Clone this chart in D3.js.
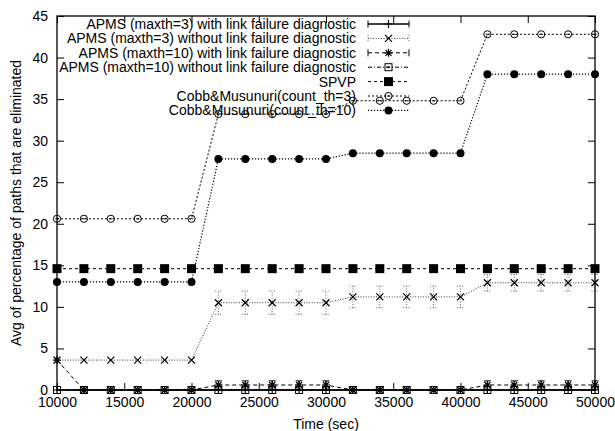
<!DOCTYPE html>
<html>
<head>
<meta charset="utf-8">
<script src="https://cdn.jsdelivr.net/npm/d3@7"></script>
<style>
  html, body { margin: 0; padding: 0; background: #fff; }
  svg { display: block; }
  text { font-family: "Liberation Sans", Arial, Helvetica, sans-serif; font-size: 14px; fill: #000; }
</style>
</head>
<body>
<svg id="chart" width="615" height="431"></svg>
<script>
// ---- data ----
const times = [10000,12000,14000,16000,18000,20000,22000,24000,26000,28000,30000,
               32000,34000,36000,38000,40000,42000,44000,46000,48000,50000];
const xTicks = [10000,15000,20000,25000,30000,35000,40000,45000,50000];
const yTicks = [0,5,10,15,20,25,30,35,40,45];

const apms3With    = [0,0,0,0,0,0, 0,0,0,0,0, 0,0,0,0,0, 0,0,0,0,0];
const apms3WithErr = [0,0,0,0,0,0, 0,0,0,0,0, 0,0,0,0,0, 0,0,0,0,0];
const apms3Without    = [3.6,3.6,3.6,3.6,3.6,3.6, 10.5,10.5,10.5,10.5,10.5, 11.2,11.2,11.2,11.2,11.2, 12.9,12.9,12.9,12.9,12.9];
const apms3WithoutErr = [0,0,0,0,0,0, 1.4,1.4,1.4,1.4,1.4, 1.3,1.3,1.3,1.3,1.3, 1.0,1.0,1.0,1.0,1.0];
const apms10With    = [3.6,0,0,0,0,0, 0.6,0.6,0.6,0.6,0.6, 0,0,0,0,0, 0.6,0.6,0.6,0.6,0.6];
const apms10WithErr = [0,0,0,0,0,0, 0.5,0.5,0.5,0.5,0.5, 0,0,0,0,0, 0.5,0.5,0.5,0.5,0.5];
const apms10Without = [0,0,0,0,0,0, 0,0,0,0,0, 0,0,0,0,0, 0,0,0,0,0];
const spvp   = [14.6,14.6,14.6,14.6,14.6,14.6, 14.6,14.6,14.6,14.6,14.6, 14.6,14.6,14.6,14.6,14.6, 14.6,14.6,14.6,14.6,14.6];
const cobb3  = [20.6,20.6,20.6,20.6,20.6,20.6, 33.2,33.2,33.2,33.2,33.2, 34.8,34.8,34.8,34.8,34.8, 42.8,42.8,42.8,42.8,42.8];
const cobb10 = [13.0,13.0,13.0,13.0,13.0,13.0, 27.8,27.8,27.8,27.8,27.8, 28.5,28.5,28.5,28.5,28.5, 38.0,38.0,38.0,38.0,38.0];

const series = [
  {name: "APMS (maxth=3) with link failure diagnostic", values: apms3With, err: apms3WithErr,
   dash: null, width: 1.5, color: "#000", marker: "plus", errColor: "#000", errDash: null},
  {name: "APMS (maxth=3) without link failure diagnostic", values: apms3Without, err: apms3WithoutErr,
   dash: "1,1.6", width: 1, color: "#333", marker: "cross", errColor: "#666", errDash: "1,1.6"},
  {name: "APMS (maxth=10) with link failure diagnostic", values: apms10With, err: apms10WithErr,
   dash: "4,3", width: 1, color: "#000", marker: "star", errColor: "#000", errDash: null},
  {name: "APMS (maxth=10) without link failure diagnostic", values: apms10Without, err: null,
   dash: "4,2,1,2", width: 1, color: "#000", marker: "box", errColor: null},
  {name: "SPVP", values: spvp, err: null,
   dash: "3,3", width: 1, color: "#000", marker: "fbox", errColor: null},
  {name: "Cobb&Musunuri(count_th=3)", values: cobb3, err: null,
   dash: "2,2", width: 1, color: "#000", marker: "circle", errColor: null},
  {name: "Cobb&Musunuri(count_th=10)", values: cobb10, err: null,
   dash: "1.2,1.8", width: 1.2, color: "#000", marker: "fcircle", errColor: null}
];

// ---- layout ----
const svg = d3.select("#chart");
const L = 57, R = 595, T = 16, B = 390;
const x = d3.scaleLinear().domain([10000, 50000]).range([L, R]);
const y = d3.scaleLinear().domain([0, 45]).range([B, T]);

// axes (ticks inward, gnuplot style)
const tick = 7;
const gB = svg.append("g").attr("transform", `translate(0,${B})`)
  .call(d3.axisBottom(x).tickValues(xTicks).tickSize(-tick).tickPadding(7).tickFormat(d3.format("d")));
const gT = svg.append("g").attr("transform", `translate(0,${T})`)
  .call(d3.axisTop(x).tickValues(xTicks).tickSize(-tick).tickFormat(""));
const gL = svg.append("g").attr("transform", `translate(${L},0)`)
  .call(d3.axisLeft(y).tickValues(yTicks).tickSize(-tick).tickPadding(9).tickFormat(d3.format("d")));
const gR = svg.append("g").attr("transform", `translate(${R},0)`)
  .call(d3.axisRight(y).tickValues(yTicks).tickSize(-tick).tickFormat(""));
[gB, gT, gL, gR].forEach(g => {
  g.select(".domain").remove();
  g.selectAll(".tick line").attr("stroke", "#000").attr("stroke-width", 1);
  g.selectAll("text").style("font-size", "14px").style("font-family", '"Liberation Sans", Arial, sans-serif').attr("fill", "#000");
});
gB.selectAll("text").attr("dy", "0.71em");

// axis titles
svg.append("text").attr("x", (L + R) / 2).attr("y", 429).attr("text-anchor", "middle").text("Time (sec)");
svg.append("text").attr("transform", `translate(21,${(T + B) / 2}) rotate(-90)`)
  .attr("text-anchor", "middle").text("Avg of percentage of paths that are eliminated");

// markers
function drawMarker(g, type, cx, cy) {
  const s = 4;
  if (type === "plus") {
    g.append("path").attr("d", `M${cx - s},${cy}H${cx + s}M${cx},${cy - s}V${cy + s}`)
      .attr("stroke", "#000").attr("stroke-width", 1.2).attr("fill", "none");
  } else if (type === "cross") {
    g.append("path").attr("d", `M${cx - 3.5},${cy - 3.5}L${cx + 3.5},${cy + 3.5}M${cx - 3.5},${cy + 3.5}L${cx + 3.5},${cy - 3.5}`)
      .attr("stroke", "#000").attr("stroke-width", 1.2).attr("fill", "none");
  } else if (type === "star") {
    g.append("path").attr("d", `M${cx - s},${cy}H${cx + s}M${cx},${cy - s}V${cy + s}M${cx - 3},${cy - 3}L${cx + 3},${cy + 3}M${cx - 3},${cy + 3}L${cx + 3},${cy - 3}`)
      .attr("stroke", "#000").attr("stroke-width", 1.2).attr("fill", "none");
  } else if (type === "box") {
    g.append("rect").attr("x", cx - 3.5).attr("y", cy - 3.5).attr("width", 7).attr("height", 7)
      .attr("stroke", "#000").attr("stroke-width", 1).attr("fill", "none");
    g.append("rect").attr("x", cx - 1).attr("y", cy - 1).attr("width", 2).attr("height", 2).attr("fill", "#000");
  } else if (type === "fbox") {
    g.append("rect").attr("x", cx - 4.5).attr("y", cy - 4.5).attr("width", 9).attr("height", 9).attr("fill", "#000");
  } else if (type === "circle") {
    g.append("circle").attr("cx", cx).attr("cy", cy).attr("r", 3.6)
      .attr("stroke", "#000").attr("stroke-width", 1).attr("fill", "none");
    g.append("path").attr("d", `M${cx - 1.8},${cy}H${cx + 1.8}`).attr("stroke", "#000").attr("stroke-width", 0.9);
  } else if (type === "fcircle") {
    g.append("circle").attr("cx", cx).attr("cy", cy).attr("r", 4).attr("fill", "#000");
  }
}

const line = d3.line().x(d => x(d[0])).y(d => y(d[1]));
const plotG = svg.append("g");

series.forEach(s => {
  const pts = times.map((t, i) => [t, s.values[i]]);
  const g = plotG.append("g");
  g.append("path").attr("d", line(pts)).attr("fill", "none")
    .attr("stroke", s.color).attr("stroke-width", s.width)
    .attr("stroke-dasharray", s.dash);
  if (s.err) {
    times.forEach((t, i) => {
      const e = s.err[i];
      if (e <= 0) return;
      const lo = Math.max(0, s.values[i] - e), hi = s.values[i] + e;
      const cx = x(t);
      g.append("path")
        .attr("d", `M${cx},${y(lo)}V${y(hi)}M${cx - 3.5},${y(lo)}H${cx + 3.5}M${cx - 3.5},${y(hi)}H${cx + 3.5}`)
        .attr("stroke", s.errColor).attr("stroke-width", 1).attr("fill", "none")
        .attr("stroke-dasharray", s.errDash);
    });
  }
  pts.forEach(p => drawMarker(g, s.marker, x(p[0]), y(p[1])));
});

// border
svg.append("rect").attr("x", L).attr("y", T).attr("width", R - L).attr("height", B - T)
  .attr("fill", "none").attr("stroke", "#000").attr("stroke-width", 1.3);

// legend
const legX = 356, legS0 = 368, legS1 = 409, legY0 = 24, legDy = 14.4;
series.forEach((s, i) => {
  const cy = legY0 + i * legDy;
  const g = svg.append("g");
  g.append("text").attr("x", legX).attr("y", cy).attr("dy", "0.36em").attr("text-anchor", "end").text(s.name);
  g.append("path").attr("d", `M${legS0},${cy}H${legS1}`)
    .attr("stroke", s.color).attr("stroke-width", s.width).attr("stroke-dasharray", s.dash).attr("fill", "none");
  if (s.err) {
    g.append("path").attr("d", `M${legS0},${cy - 3.5}V${cy + 3.5}M${legS1},${cy - 3.5}V${cy + 3.5}`)
      .attr("stroke", s.errColor).attr("stroke-width", 1).attr("stroke-dasharray", s.errDash);
  }
  drawMarker(g, s.marker, (legS0 + legS1) / 2, cy);
});
</script>
</body>
</html>
